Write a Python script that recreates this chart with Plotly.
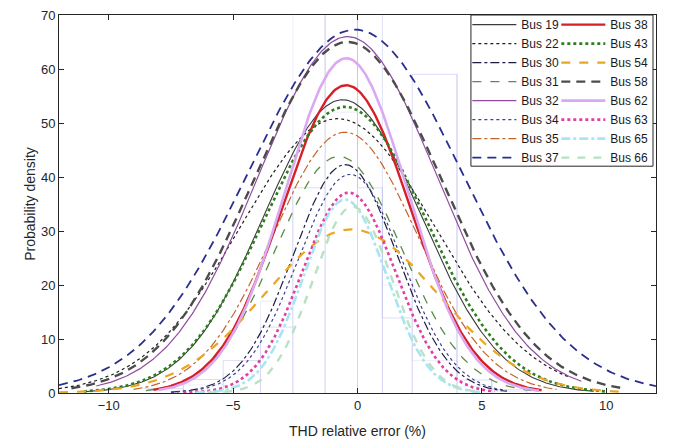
import numpy as np
import plotly.graph_objects as go

# fitted normal curves: peak height, mean, std, plotted range
BUSES = ['Bus 19', 'Bus 22', 'Bus 30', 'Bus 31', 'Bus 32', 'Bus 34', 'Bus 35', 'Bus 37',
         'Bus 38', 'Bus 43', 'Bus 54', 'Bus 58', 'Bus 62', 'Bus 63', 'Bus 65', 'Bus 66']
PEAKS = [54.3, 50.8, 42.3, 43.8, 66.0, 40.5, 48.3, 67.3,
         57.0, 53.0, 30.3, 65.0, 62.0, 37.1, 35.8, 34.5]
MEANS = [-0.6, -0.8, -0.5, -0.75, -0.4, -0.3, -0.5, -0.1,
         -0.45, -0.5, -0.25, -0.4, -0.45, -0.35, -0.5, -0.2]
STDS = [3.15, 3.9, 2.08, 2.55, 3.6, 2.1, 2.9, 4.3,
        2.56, 3.25, 3.47, 3.78, 2.45, 1.87, 1.67, 1.6]
X_MIN = [-11.0, -12.0, -7.5, -8.5, -10.5, -7.5, -9.0, -12.0,
         -8.2, -11.0, -12.0, -11.5, -8.0, -7.0, -6.5, -6.0]
X_MAX = [9.5, 8.5, 6.0, 7.0, 9.0, 6.0, 8.0, 12.0,
         7.4, 10.0, 10.5, 10.6, 7.3, 5.5, 5.0, 5.0]

COLORS = ['#3a3a3a', '#1e1e1e', '#1c1c44', '#5a8c44', '#8e4c9e', '#40408e', '#c4642c', '#2a2e8e',
          '#d61f26', '#2e7d1e', '#eaa620', '#4c4c4c', '#dba9f2', '#e23fa3', '#a6e6f2', '#b9e2c4']
DASHES = ['solid', 'dot', 'dashdot', 'dash', 'solid', 'dot', 'dashdot', '9px,6px',
          'solid', 'dot', 'dash', '9px,6px', 'solid', 'dot', 'dashdot', '8px,8px']
WIDTHS = [1.1, 1.2, 1.2, 1.3, 1.2, 1.2, 1.2, 1.8,
          2.4, 2.6, 2.2, 2.4, 2.6, 2.6, 2.6, 2.4]

# faint histogram outlines behind the curves
HIST_EDGES = [-8.6, -7.0, -5.4, -3.9, -2.6, -1.3, 0.0, 1.0, 2.2, 4.0, 5.4, 6.8]
HIST_A = [0.8, 2.5, 6.0, 12.2, 38.0, 72.0, 38.0, 13.9, 59.0, 2.4, 0.6]
HIST_B = [0.4, 1.5, 3.5, 17.0, 72.0, 52.0, 72.0, 20.0, 6.0, 1.2, 0.3]

fig = go.Figure()

for heights, col in [(HIST_A, 'rgba(170,170,235,0.40)'), (HIST_B, 'rgba(200,200,240,0.30)')]:
    fig.add_trace(go.Scatter(
        x=HIST_EDGES, y=heights + [heights[-1]], mode='lines', line_shape='hv',
        line=dict(color=col, width=1), showlegend=False, hoverinfo='skip'))
    fig.add_trace(go.Scatter(
        x=[e for e in HIST_EDGES for _ in range(3)],
        y=[v for h in [0] + heights for v in (0, min(h, 70), None)][:len(HIST_EDGES) * 3],
        mode='lines', line=dict(color=col, width=1), showlegend=False, hoverinfo='skip'))

for i, name in enumerate(BUSES):
    x = np.linspace(X_MIN[i], X_MAX[i], 300)
    y = PEAKS[i] * np.exp(-0.5 * ((x - MEANS[i]) / STDS[i]) ** 2)
    fig.add_trace(go.Scatter(
        x=x, y=y, mode='lines', name=name,
        line=dict(color=COLORS[i], dash=DASHES[i], width=WIDTHS[i]),
        legend='legend' if i < 8 else 'legend2'))

axis_style = dict(showline=True, linecolor='#262626', linewidth=1, mirror='ticks',
                  ticks='inside', ticklen=5, tickcolor='#262626', showgrid=False,
                  zeroline=False, automargin=False, tickfont=dict(size=13, color='#262626'))

legend_style = dict(bgcolor='rgba(0,0,0,0)', borderwidth=0, yanchor='top', y=1.013,
                    xanchor='left', font=dict(size=12, color='#1a1a1a'),
                    itemwidth=44, tracegroupgap=0)

fig.update_layout(
    width=676, height=443,
    margin=dict(l=59, r=20, t=10, b=50),
    paper_bgcolor='white', plot_bgcolor='white',
    font=dict(family='Liberation Sans, Arial, sans-serif', color='#262626'),
    xaxis=dict(range=[-12, 12], dtick=5, tick0=0,
               title=dict(text='THD relative error (%)', font=dict(size=14), standoff=14),
               **axis_style),
    yaxis=dict(range=[0, 70], dtick=10,
               title=dict(text='Probability density', font=dict(size=14), standoff=2),
               **axis_style),
    legend=dict(x=0.684, **legend_style),
    legend2=dict(x=0.833, **legend_style),
    shapes=[dict(type='rect', xref='paper', yref='paper', x0=0.690, x1=0.995, y0=0.60, y1=1.0,
                 line=dict(color='#262626', width=1), fillcolor='white', layer='above')],
)

fig.write_html("out.html", config={'displayModeBar': False},
               post_script="document.body.style.margin='0';")
